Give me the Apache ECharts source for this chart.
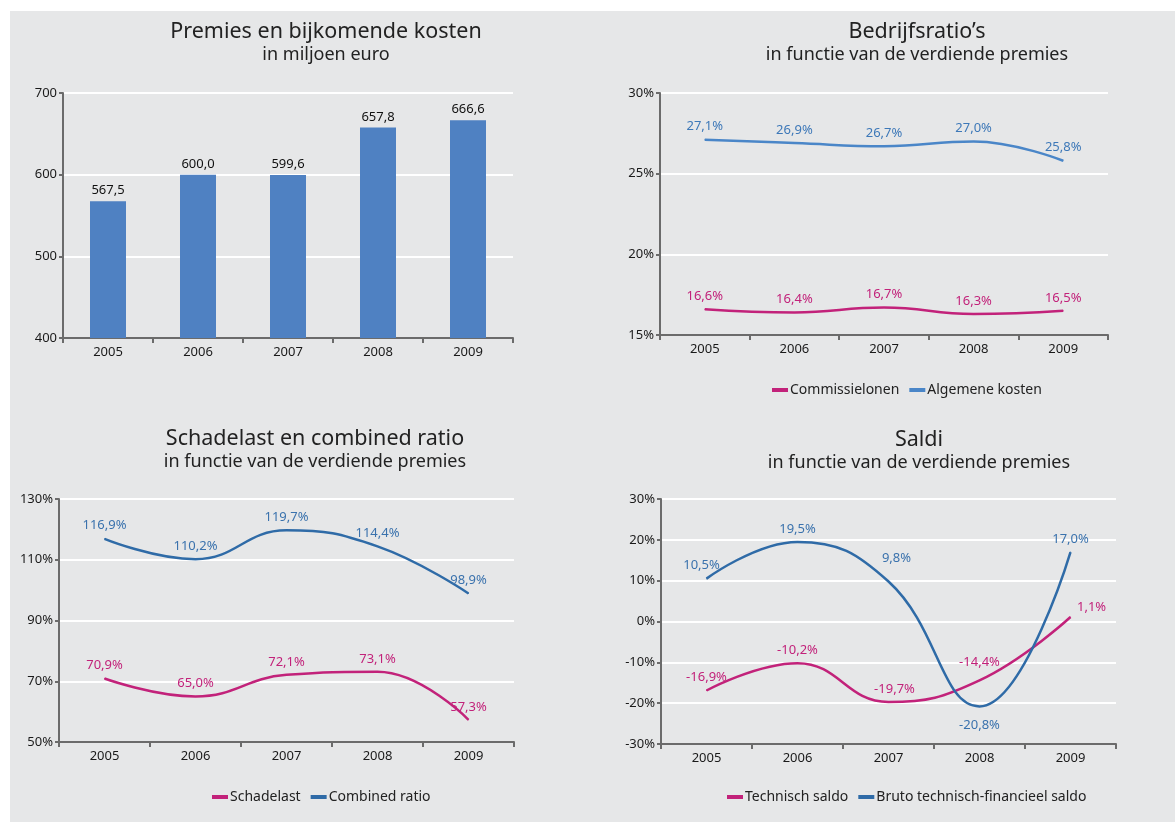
<!DOCTYPE html>
<html>
<head>
<meta charset="utf-8">
<script src="https://cdn.jsdelivr.net/npm/echarts@6/dist/echarts.min.js"></script>
<style>
    html, body { margin: 0; padding: 0; background: #ffffff; }
    #main { width: 1175px; height: 822px; }
</style>
</head>
<body>
<div id="main"></div>
<script>
    // categorieën en waarden
    var years = ['2005', '2006', '2007', '2008', '2009'];
    var premies = [567.5, 600.0, 599.6, 657.8, 666.6];
    var commissielonen = [16.6, 16.4, 16.7, 16.3, 16.5];
    var algemeneKosten = [27.1, 26.9, 26.7, 27.0, 25.8];
    var schadelast = [70.9, 65.0, 72.1, 73.1, 57.3];
    var combinedRatio = [116.9, 110.2, 119.7, 114.4, 98.9];
    var technischSaldo = [-16.9, -10.2, -19.7, -14.4, 1.1];
    var brutoSaldo = [10.5, 19.5, 9.8, -20.8, 17.0];

    var MAGENTA = '#c2227a';
    var BLUE_LIGHT = '#4a86c8';
    var BLUE_DARK = '#2f6ba7';
    var FONT = 'Noto Sans';

    function comma(v) {
        return v.toFixed(1).replace('.', ',');
    }
    function pct(p) {
        return comma(p.value) + '%';
    }

    var chart = echarts.init(document.getElementById('main'));

    function titles(x, y, main, sub) {
        return [
            {text: main, left: x, top: y, textAlign: 'center',
                textStyle: {fontFamily: FONT, fontSize: 21.5, fontWeight: 'normal', color: '#222'}},
            {text: sub, left: x, top: y + 25, textAlign: 'center',
                textStyle: {fontFamily: FONT, fontSize: 18, fontWeight: 'normal', color: '#222'}}
        ];
    }

    function xAx(i) {
        return {
            type: 'category', gridIndex: i, data: years, boundaryGap: true,
            axisLine: {onZero: false, lineStyle: {color: '#6b6b6b', width: 2}},
            axisTick: {show: true, length: 5, lineStyle: {color: '#6b6b6b', width: 2}},
            axisLabel: {fontFamily: FONT, fontSize: 13, color: '#1a1a1a', margin: 8}
        };
    }

    function yAx(i, min, max, interval, fmt) {
        return {
            type: 'value', gridIndex: i, min: min, max: max, interval: interval,
            axisLine: {show: true, lineStyle: {color: '#6b6b6b', width: 2}},
            axisTick: {show: true, length: 4, lineStyle: {color: '#6b6b6b', width: 2}},
            axisLabel: {fontFamily: FONT, fontSize: 13, color: '#1a1a1a', margin: 6, formatter: fmt},
            splitLine: {lineStyle: {color: '#ffffff', width: 2}}
        };
    }

    function lineSeries(name, data, color, labelColor, i, labelPos) {
        return {
            name: name, type: 'line', xAxisIndex: i, yAxisIndex: i,
            data: data.map(function (v, k) {
                var d = {value: v};
                if (labelPos && labelPos[k]) d.label = labelPos[k];
                return d;
            }),
            smooth: 0.45, showSymbol: true, symbol: 'circle', symbolSize: 1,
            lineStyle: {color: color, width: 2.5},
            itemStyle: {color: color},
            label: {show: true, position: 'top', distance: 6, formatter: pct,
                fontFamily: FONT, fontSize: 13, color: labelColor}
        };
    }

    function legend(x, y, names, colors) {
        return {
            data: names.map(function (n, k) {
                return {name: n, itemStyle: {color: colors[k]}};
            }),
            left: x, top: y, icon: 'rect', itemWidth: 16, itemHeight: 4, itemGap: 10,
            textStyle: {fontFamily: FONT, fontSize: 14, color: '#222', padding: [0, 0, 0, -3]}
        };
    }

    chart.setOption({
        animation: false,
        backgroundColor: '#ffffff',
        graphic: [{
            type: 'rect', z: -10, silent: true,
            shape: {x: 10, y: 11, width: 1165, height: 811},
            style: {fill: '#e6e7e8'}
        }],
        title: [].concat(
            titles(321, 16, 'Premies en bijkomende kosten', 'in miljoen euro'),
            titles(912, 16, 'Bedrijfsratio’s', 'in functie van de verdiende premies'),
            titles(310, 423, 'Schadelast en combined ratio', 'in functie van de verdiende premies'),
            titles(914, 424, 'Saldi', 'in functie van de verdiende premies')
        ),
        legend: [
            legend(767, 378, ['Commissielonen', 'Algemene kosten'], [MAGENTA, BLUE_LIGHT]),
            legend(207, 785, ['Schadelast', 'Combined ratio'], [MAGENTA, BLUE_DARK]),
            legend(722, 785, ['Technisch saldo', 'Bruto technisch-financieel saldo'], [MAGENTA, BLUE_DARK])
        ],
        grid: [
            {left: 63, top: 93, width: 450, height: 245},
            {left: 660, top: 93, width: 448, height: 242},
            {left: 59, top: 499, width: 455, height: 243},
            {left: 661, top: 499, width: 455, height: 245}
        ],
        xAxis: [xAx(0), xAx(1), xAx(2), xAx(3)],
        yAxis: [
            yAx(0, 400, 700, 100, '{value}'),
            yAx(1, 15, 30, 5, '{value}%'),
            yAx(2, 50, 130, 20, '{value}%'),
            yAx(3, -30, 30, 10, '{value}%')
        ],
        series: [
            {
                name: 'Premies', type: 'bar', xAxisIndex: 0, yAxisIndex: 0,
                data: premies, barWidth: 36,
                itemStyle: {color: '#4f81c2'},
                label: {show: true, position: 'top', distance: 4,
                    formatter: function (p) { return comma(p.value); },
                    fontFamily: FONT, fontSize: 13, color: '#111'}
            },
            lineSeries('Commissielonen', commissielonen, MAGENTA, MAGENTA, 1),
            lineSeries('Algemene kosten', algemeneKosten, BLUE_LIGHT, '#3d78b8', 1),
            lineSeries('Schadelast', schadelast, MAGENTA, MAGENTA, 2),
            lineSeries('Combined ratio', combinedRatio, BLUE_DARK, '#3a72ad', 2),
            lineSeries('Technisch saldo', technischSaldo, MAGENTA, MAGENTA, 3,
                [null, null, {position: 'top', offset: [6, 0]}, {position: 'top', distance: 11},
                    {position: 'right', offset: [0, -10]}]),
            lineSeries('Bruto technisch-financieel saldo', brutoSaldo, BLUE_DARK, '#3a72ad', 3,
                [{position: 'top', offset: [-5, 0]}, null, {position: 'top', offset: [8, -10]},
                    {position: 'bottom', distance: 12}, null])
        ]
    });
</script>
</body>
</html>
